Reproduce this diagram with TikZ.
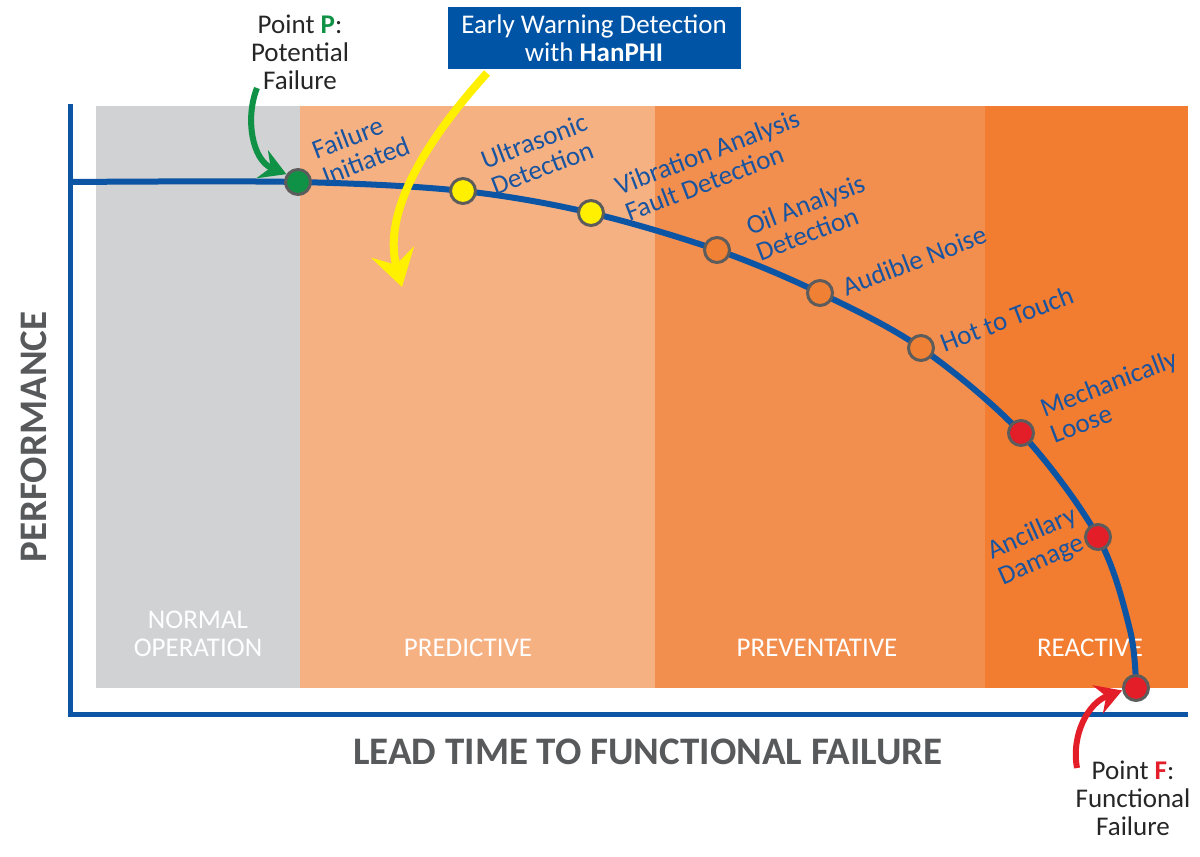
\documentclass[tikz,border=0pt]{standalone}
\usepackage{fontspec}
\setmainfont{Carlito}
\usetikzlibrary{arrows.meta}

\definecolor{axisblue}{RGB}{12,84,164}
\definecolor{signblue}{RGB}{24,84,160}
\definecolor{boxblue}{RGB}{0,84,166}
\definecolor{normalgray}{RGB}{209,210,212}
\definecolor{predictive}{RGB}{246,177,131}
\definecolor{preventative}{RGB}{243,143,78}
\definecolor{reactive}{RGB}{242,124,48}
\definecolor{titlegray}{RGB}{88,89,91}
\definecolor{dotrim}{RGB}{92,92,92}
\definecolor{pgreen}{RGB}{16,146,70}
\definecolor{pred}{RGB}{228,30,40}
\definecolor{hanyellow}{RGB}{255,240,0}
\definecolor{dotorange}{RGB}{240,128,52}

\tikzstyle{dot} = [circle,draw=dotrim,line width=3pt,minimum size=25pt,inner sep=0pt]
\tikzstyle{sign} = [text=signblue,font=\fontsize{27}{28}\selectfont,align=left,rotate=21,anchor=west,inner sep=0pt]
\tikzstyle{stage} = [text=white,font=\fontsize{27}{28}\selectfont,align=center]
\tikzstyle{axistitle} = [text=titlegray,font=\bfseries\fontsize{39}{40}\selectfont]
\tikzstyle{callout} = [text=black!85,font=\fontsize{27}{28}\selectfont,align=center]

\begin{document}
\begin{tikzpicture}[x=1pt,y=-1pt]
	\useasboundingbox (0,0) rectangle (1200,857);

	\fill[normalgray] (96,106) rectangle (300,688);
	\fill[predictive] (300,106) rectangle (655,688);
	\fill[preventative] (655,106) rectangle (985,688);
	\fill[reactive] (985,106) rectangle (1188,688);

	\node[stage] (s1) at (198,634) {NORMAL\\OPERATION};
	\node[stage] (s2) at (468,648) {PREDICTIVE};
	\node[stage] (s3) at (817,648) {PREVENTATIVE};
	\node[stage] (s4) at (1090,648) {REACTIVE};

	\draw[axisblue,line width=5pt] (70,104) -- (70,714) -- (1188,714);

	\coordinate (p0) at (70,182);
	\coordinate (p1) at (298,182);
	\coordinate (p2) at (463,191);
	\coordinate (p3) at (591,213);
	\coordinate (p4) at (717,250);
	\coordinate (p5) at (820,293);
	\coordinate (p6) at (921,348);
	\coordinate (p7) at (1021,433);
	\coordinate (p8) at (1098,537);
	\coordinate (q8) at (1130,630);
	\coordinate (p9) at (1136,688);

	\draw[axisblue,line width=6pt] plot[smooth,tension=0.55] coordinates {(p0) (p1) (p2) (p3) (p4) (p5) (p6) (p7) (p8) (q8) (p9)};

	\node[dot,fill=pgreen] (n1) at (p1) {};
	\node[dot,fill=hanyellow] (n2) at (p2) {};
	\node[dot,fill=hanyellow] (n3) at (p3) {};
	\node[dot,fill=dotorange] (n4) at (p4) {};
	\node[dot,fill=dotorange] (n5) at (p5) {};
	\node[dot,fill=dotorange] (n6) at (p6) {};
	\node[dot,fill=pred] (n7) at (p7) {};
	\node[dot,fill=pred] (n8) at (p8) {};
	\node[dot,fill=pred] (n9) at (p9) {};

	\node[sign] (l1) at (318,164) {Failure\\Initiated};
	\node[sign] (l2) at (487,174) {Ultrasonic\\Detection};
	\node[sign] (l3) at (621,200) {Vibration Analysis\\Fault Detection};
	\node[sign] (l4) at (752,240) {Oil Analysis\\Detection};
	\node[sign] (l5) at (843,288) {Audible Noise};
	\node[sign] (l6) at (941,344) {Hot to Touch};
	\node[sign] (l7) at (1046,422) {Mechanically\\Loose};
	\node[sign,rotate=3] (l8) at (995,566) {Ancillary\\Damage};

	\node[axistitle] (xt) at (648,752) {LEAD TIME TO FUNCTIONAL FAILURE};
	\node[axistitle,rotate=90] (yt) at (34,437) {PERFORMANCE};

	\node[callout] (pp) at (300,52) {Point \textbf{\textcolor{pgreen}{P}}:\\Potential\\Failure};
	\node[callout] (pf) at (1133,798) {Point \textbf{\textcolor{pred}{F}}:\\Functional\\Failure};

	\node[fill=boxblue,text=white,minimum width=293pt,minimum height=62pt,inner sep=0pt,align=center,font=\fontsize{27}{28}\selectfont] (ew) at (594,38) {Early Warning Detection\\with \textbf{HanPHI}};

	\coordinate (ps) at (257,88);
	\coordinate (ys) at (487,73);
	\coordinate (ye) at (402,287);
	\coordinate (fs) at (1077,768);

	\draw[pgreen,line width=6pt,-{Stealth[length=26pt,width=30pt,inset=9pt]}] (ps) .. controls (245,118) and (252,160) .. (n1.146);
	\draw[hanyellow,line width=8pt,-{Stealth[length=36pt,width=44pt,inset=13pt]}] (ys) .. controls (440,125) and (380,205) .. (ye);
	\draw[pred,line width=6pt,-{Stealth[length=26pt,width=30pt,inset=9pt]}] (fs) .. controls (1071,735) and (1088,703) .. (n9.190);
\end{tikzpicture}
\end{document}
